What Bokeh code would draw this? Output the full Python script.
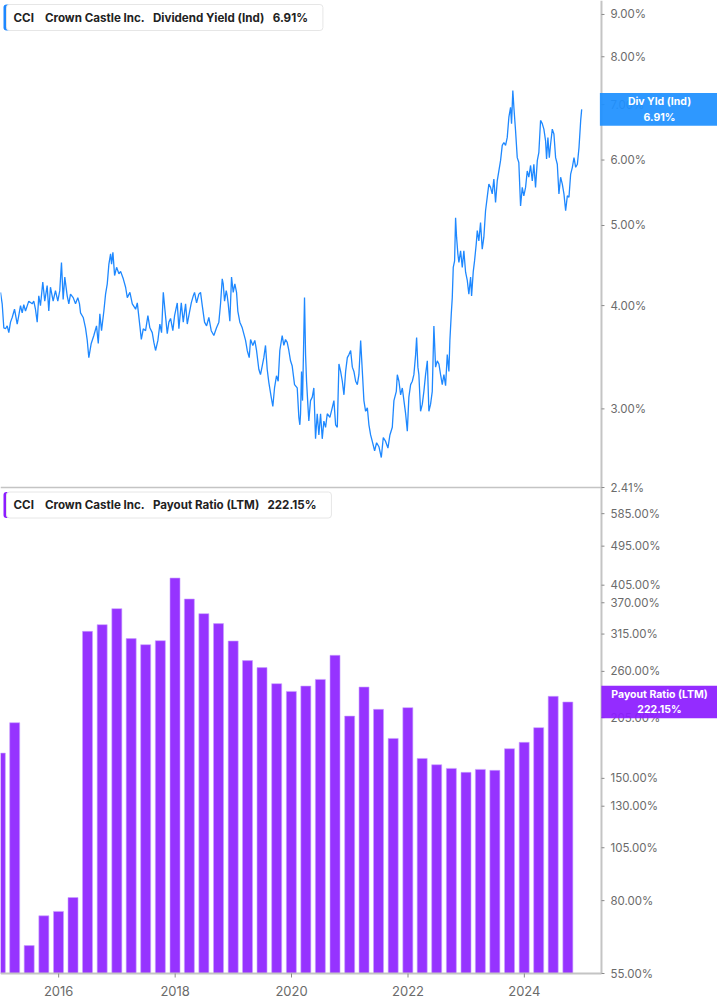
import math
from datetime import datetime
from bokeh.plotting import figure
from bokeh.models import Range1d, LogScale, Label, ColumnDataSource
from bokeh.core.properties import value
from bokeh.embed import file_html
from bokeh.resources import INLINE

# ---------------- data ----------------
# Dividend yield (Ind), % -- time given as decimal years
yield_t = [
    2015.000, 2015.029, 2015.057, 2015.086, 2015.115, 2015.143, 2015.172, 2015.201, 2015.241, 2015.287,
    2015.314, 2015.344, 2015.373, 2015.400, 2015.430, 2015.486, 2015.545, 2015.572, 2015.601, 2015.631,
    2015.658, 2015.687, 2015.727, 2015.761, 2015.802, 2015.830, 2015.859, 2015.905, 2015.945, 2015.985,
    2016.019, 2016.048, 2016.077, 2016.105, 2016.146, 2016.174, 2016.203, 2016.249, 2016.289, 2016.328,
    2016.357, 2016.375, 2016.421, 2016.460, 2016.490, 2016.517, 2016.558, 2016.603, 2016.649, 2016.679,
    2016.706, 2016.735, 2016.775, 2016.804, 2016.833, 2016.861, 2016.890, 2016.907, 2016.930, 2016.959,
    2016.993, 2017.033, 2017.062, 2017.108, 2017.148, 2017.177, 2017.222, 2017.263, 2017.320, 2017.349,
    2017.393, 2017.418, 2017.452, 2017.491, 2017.531, 2017.565, 2017.606, 2017.634, 2017.663, 2017.703,
    2017.737, 2017.766, 2017.796, 2017.823, 2017.864, 2017.892, 2017.921, 2017.960, 2017.990, 2018.036,
    2018.064, 2018.105, 2018.139, 2018.179, 2018.208, 2018.235, 2018.277, 2018.311, 2018.333, 2018.368,
    2018.407, 2018.436, 2018.466, 2018.505, 2018.540, 2018.579, 2018.620, 2018.665, 2018.711, 2018.751,
    2018.780, 2018.809, 2018.826, 2018.849, 2018.878, 2018.895, 2018.912, 2018.940, 2018.969, 2018.998,
    2019.026, 2019.055, 2019.077, 2019.112, 2019.153, 2019.210, 2019.239, 2019.273, 2019.296, 2019.335,
    2019.369, 2019.399, 2019.438, 2019.467, 2019.496, 2019.524, 2019.553, 2019.582, 2019.610, 2019.651,
    2019.679, 2019.708, 2019.742, 2019.771, 2019.799, 2019.840, 2019.868, 2019.897, 2019.926, 2019.954,
    2019.983, 2020.012, 2020.052, 2020.098, 2020.126, 2020.143, 2020.155, 2020.172, 2020.189, 2020.206,
    2020.223, 2020.241, 2020.258, 2020.280, 2020.297, 2020.326, 2020.356, 2020.383, 2020.412, 2020.441,
    2020.469, 2020.498, 2020.527, 2020.555, 2020.584, 2020.613, 2020.658, 2020.699, 2020.727, 2020.756,
    2020.785, 2020.813, 2020.842, 2020.871, 2020.899, 2020.928, 2020.957, 2020.985, 2021.014, 2021.043,
    2021.070, 2021.100, 2021.129, 2021.156, 2021.186, 2021.215, 2021.242, 2021.271, 2021.301, 2021.328,
    2021.357, 2021.386, 2021.426, 2021.460, 2021.500, 2021.541, 2021.575, 2021.615, 2021.655, 2021.689,
    2021.730, 2021.758, 2021.799, 2021.816, 2021.844, 2021.873, 2021.902, 2021.930, 2021.959, 2021.988,
    2022.015, 2022.045, 2022.074, 2022.101, 2022.131, 2022.148, 2022.170, 2022.187, 2022.216, 2022.246,
    2022.273, 2022.302, 2022.332, 2022.359, 2022.388, 2022.417, 2022.445, 2022.474, 2022.503, 2022.531,
    2022.560, 2022.589, 2022.617, 2022.646, 2022.675, 2022.703, 2022.720, 2022.744, 2022.761, 2022.778,
    2022.801, 2022.818, 2022.835, 2022.857, 2022.875, 2022.904, 2022.933, 2022.960, 2022.990, 2023.019,
    2023.046, 2023.076, 2023.093, 2023.122, 2023.144, 2023.173, 2023.191, 2023.218, 2023.247, 2023.276,
    2023.304, 2023.333, 2023.362, 2023.390, 2023.419, 2023.448, 2023.476, 2023.505, 2023.534, 2023.562,
    2023.591, 2023.620, 2023.648, 2023.677, 2023.706, 2023.734, 2023.763, 2023.780, 2023.802, 2023.820,
    2023.849, 2023.878, 2023.905, 2023.935, 2023.964, 2023.991, 2024.021, 2024.050, 2024.077, 2024.107,
    2024.136, 2024.163, 2024.192, 2024.222, 2024.249, 2024.278, 2024.307, 2024.335, 2024.364, 2024.381,
    2024.404, 2024.428, 2024.450, 2024.479, 2024.507, 2024.536, 2024.565, 2024.593, 2024.622, 2024.651,
    2024.679, 2024.708, 2024.737, 2024.765, 2024.794, 2024.823, 2024.851, 2024.880, 2024.909, 2024.937,
    2024.966, 2024.983,
]
yield_pct = [
    4.15, 4.02, 3.76, 3.75, 3.78, 3.71, 3.82, 3.87, 3.96, 3.80,
    3.89, 4.00, 3.92, 4.01, 3.94, 4.05, 4.02, 4.05, 3.96, 3.82,
    4.11, 4.00, 4.27, 4.05, 4.23, 3.94, 4.21, 4.05, 4.17, 4.05,
    4.17, 4.51, 4.07, 4.33, 4.11, 4.02, 4.13, 4.09, 4.02, 4.09,
    4.02, 3.92, 3.87, 3.76, 3.63, 3.46, 3.60, 3.68, 3.78, 3.60,
    3.91, 3.73, 3.94, 4.13, 4.25, 4.49, 4.62, 4.49, 4.64, 4.35,
    4.45, 4.37, 4.40, 4.31, 4.21, 4.09, 4.15, 4.02, 3.96, 4.03,
    3.78, 3.64, 3.75, 3.73, 3.89, 3.76, 3.71, 3.61, 3.53, 3.63,
    3.80, 3.71, 4.15, 3.96, 3.70, 3.82, 3.86, 3.73, 3.89, 4.03,
    3.75, 4.03, 3.82, 4.02, 3.80, 3.89, 4.03, 4.11, 4.15, 4.03,
    4.13, 4.15, 4.00, 3.82, 3.78, 3.87, 3.73, 3.68, 3.76, 3.82,
    4.02, 4.31, 4.25, 4.05, 4.17, 4.11, 4.02, 3.83, 4.33, 4.15,
    4.25, 4.15, 3.94, 3.82, 3.76, 3.63, 3.53, 3.46, 3.64, 3.58,
    3.63, 3.53, 3.35, 3.30, 3.38, 3.46, 3.58, 3.35, 3.23, 3.10,
    3.02, 3.18, 3.29, 3.24, 3.53, 3.68, 3.58, 3.64, 3.61, 3.53,
    3.43, 3.38, 3.21, 3.18, 2.93, 2.87, 2.96, 3.33, 3.07, 3.53,
    4.09, 3.49, 3.24, 3.04, 2.90, 3.07, 3.10, 3.18, 2.76, 2.96,
    2.79, 2.96, 2.76, 2.90, 2.85, 2.96, 2.93, 3.01, 3.07, 2.87,
    2.85, 3.40, 3.33, 3.24, 3.12, 3.33, 3.46, 3.49, 3.53, 3.37,
    3.33, 3.24, 3.21, 3.30, 3.63, 3.33, 3.07, 2.98, 3.01, 2.87,
    2.79, 2.74, 2.67, 2.73, 2.70, 2.62, 2.77, 2.74, 2.69, 2.79,
    2.85, 3.07, 3.15, 3.30, 3.24, 3.12, 3.18, 3.07, 2.96, 2.82,
    3.10, 3.21, 3.24, 3.30, 3.49, 3.66, 3.37, 3.30, 2.98, 3.04,
    3.15, 3.30, 3.43, 2.98, 3.04, 3.15, 3.78, 3.37, 3.43, 3.40,
    3.30, 3.21, 3.30, 3.20, 3.49, 3.33, 3.63, 3.91, 4.09, 4.45,
    4.53, 5.11, 4.84, 4.62, 4.51, 4.66, 4.45, 4.66, 4.39, 4.29,
    4.13, 4.33, 4.11, 4.40, 4.53, 4.75, 4.93, 4.79, 5.04, 4.68,
    4.84, 5.21, 5.41, 5.61, 5.56, 5.46, 5.69, 5.33, 5.66, 5.82,
    5.99, 6.25, 6.30, 6.25, 6.39, 6.76, 6.95, 6.64, 7.28, 6.95,
    6.51, 6.04, 5.96, 5.28, 5.56, 5.43, 5.56, 5.82, 5.72, 5.91,
    5.66, 5.93, 5.56, 5.99, 6.13, 6.70, 6.64, 6.54, 6.33, 6.02,
    6.39, 6.04, 6.27, 6.54, 6.45, 6.04, 5.93, 5.46, 5.72, 5.61,
    5.46, 5.21, 5.43, 5.41, 5.77, 5.88, 6.04, 5.88, 5.93, 6.21,
    6.70, 6.91,
]

# Payout ratio (LTM), %, by quarter end
payout_q = [
    "2014-12-31", "2015-03-31", "2015-06-30", "2015-09-30", "2015-12-31",
    "2016-03-31", "2016-06-30", "2016-09-30", "2016-12-31",
    "2017-03-31", "2017-06-30", "2017-09-30", "2017-12-31",
    "2018-03-31", "2018-06-30", "2018-09-30", "2018-12-31",
    "2019-03-31", "2019-06-30", "2019-09-30", "2019-12-31",
    "2020-03-31", "2020-06-30", "2020-09-30", "2020-12-31",
    "2021-03-31", "2021-06-30", "2021-09-30", "2021-12-31",
    "2022-03-31", "2022-06-30", "2022-09-30", "2022-12-31",
    "2023-03-31", "2023-06-30", "2023-09-30", "2023-12-31",
    "2024-03-31", "2024-06-30", "2024-09-30",
]
payout_pct = [
    170.8, 199.7, 63.5, 74.0, 75.7,
    81.3, 319.4, 330.6, 359.0,
    307.7, 298.3, 304.5, 420.2,
    377.2, 349.9, 332.4, 303.9,
    274.8, 265.1, 244.1, 234.6,
    241.1, 249.5, 282.4, 206.6,
    239.9, 213.9, 184.2, 215.8,
    166.2, 160.9, 157.9, 154.7,
    157.1, 156.3, 174.7, 180.5,
    194.7, 228.7, 222.15,
]

yield_ticks = [2.41, 3, 4, 5, 6, 7, 8, 9]
payout_ticks = [55, 80, 105, 130, 150, 205, 260, 315, 370, 405, 495, 585]
year_ticks = [2016, 2018, 2020, 2022, 2024]

ticker_sym = "CCI"
company = "Crown Castle Inc."

# ---------------- helpers ----------------
def dec_to_dt(t):
    y = int(t)
    a, b = datetime(y, 1, 1), datetime(y + 1, 1, 1)
    return a + (b - a) * (t - y)

yield_dates = [dec_to_dt(t) for t in yield_t]
bar_dates = [datetime.strptime(d, "%Y-%m-%d") for d in payout_q]
year_dates = [datetime(y, 1, 1) for y in year_ticks]

FONT = "Inter"
GRAY = "#6b6b6b"
AXIS = "#c4c4c4"
TICK = "#8a8a8a"
BLUE = "#1e88ff"
BLUE_BOX = "#1e90ff"
PURPLE = "#9633ff"
PURPLE_DARK = "#8c1cff"

# time window and the position of the value axis
x_start = datetime(2015, 1, 1)
axis_date = datetime(2025, 4, 29)
x_end = datetime(2027, 4, 27)

# one frame holding both panels: each panel gets its own log range
yield_range = Range1d(0.5694, 9.357)
payout_range = Range1d(46.66, 8184)

p = figure(width=717, height=1005, x_axis_type="datetime", y_axis_type="log",
           x_axis_location=None, y_axis_location=None,
           x_range=Range1d(x_start, x_end), y_range=yield_range,
           toolbar_location=None, output_backend="svg", min_border=0)
p.extra_y_ranges = {"payout": payout_range}
p.extra_y_scales = {"payout": LogScale()}
p.outline_line_color = None
p.grid.visible = False
p.background_fill_color = "white"

# ---- marks ----
p.line(yield_dates, yield_pct, line_color=BLUE, line_width=1.3)

src = ColumnDataSource(dict(x=bar_dates, top=payout_pct))
bar_w = 62.8 * 24 * 3600 * 1000
p.vbar(x="x", top="top", bottom=payout_ticks[0], width=bar_w, source=src,
       y_range_name="payout", fill_color=PURPLE, line_color="#c9a3ff", line_width=0.6)

# ---- axes (drawn as guides) ----
# value axis line (shared by both panels)
p.segment(x0=[axis_date], x1=[axis_date], y0=[payout_ticks[0]], y1=[payout_range.end],
          y_range_name="payout", line_color=AXIS, line_width=2)
# panel base lines
p.segment(x0=[x_start], x1=[axis_date], y0=[yield_ticks[0]], y1=[yield_ticks[0]],
          line_color=AXIS, line_width=1.5)
p.segment(x0=[x_start], x1=[axis_date], y0=[payout_ticks[0]], y1=[payout_ticks[0]],
          y_range_name="payout", line_color=AXIS, line_width=2)

lab_style = dict(text_font=value(FONT), text_font_size="11.5px", text_color=GRAY,
                 text_baseline="middle", text_align="left", x_offset=9)
p.ray(x=[axis_date] * len(yield_ticks), y=yield_ticks, length=3, length_units="screen",
      angle=0, line_color=TICK, line_width=1)
p.text(x=[axis_date] * len(yield_ticks), y=yield_ticks,
       text=[f"{t:.2f}%" for t in yield_ticks], **lab_style)
p.ray(x=[axis_date] * len(payout_ticks), y=payout_ticks, length=3, length_units="screen",
      angle=0, line_color=TICK, line_width=1, y_range_name="payout")
p.text(x=[axis_date] * len(payout_ticks), y=payout_ticks,
       text=[f"{t:.2f}%" for t in payout_ticks], y_range_name="payout", **lab_style)

# time axis
p.ray(x=year_dates, y=[payout_ticks[0]] * len(year_dates), length=4, length_units="screen",
      angle=-math.pi / 2, line_color=TICK, line_width=1, y_range_name="payout")
p.text(x=year_dates, y=[payout_ticks[0]] * len(year_dates), text=[str(y) for y in year_ticks],
       y_range_name="payout", y_offset=17, text_font=value(FONT), text_font_size="13px",
       text_color=GRAY, text_align="center", text_baseline="middle")

# ---- legends (top-left of each panel) ----
SP4 = "\u00a0\u00a0\u00a0\u00a0"
SP3 = "\u00a0\u00a0\u00a0"


def legend(text, color, y_from_bottom):
    common = dict(x_units="screen", y_units="screen", y=y_from_bottom, text=text,
                  text_font=FONT, text_font_size="11.6px", text_font_style="bold",
                  text_baseline="middle",
                  padding=dict(left=7, right=15, top=6, bottom=6), border_radius=3)
    p.add_layout(Label(x=3, text_color=color, background_fill_color=color, **common))
    p.add_layout(Label(x=6, text_color="#222222", background_fill_color="white",
                       border_line_color="#e6e6e6", **common))


legend(f"{ticker_sym}{SP4}{company}{SP3}Dividend Yield (Ind){SP3}{yield_pct[-1]:.2f}%",
       BLUE, 988)
legend(f"{ticker_sym}{SP4}{company}{SP3}Payout Ratio (LTM){SP3}{payout_pct[-1]:.2f}%",
       PURPLE_DARK, 500.5)

# ---- last-value boxes on the value axis ----
box = dict(x=659, x_units="screen", y_units="data", text_font=FONT, text_font_size="10.5px",
           text_font_style="bold", text_color="white", text_align="center",
           text_baseline="middle", background_fill_alpha=0.93)
p.add_layout(Label(y=yield_pct[-1], text=f"Div Yld (Ind)\n{yield_pct[-1]:.2f}%",
                   background_fill_color=BLUE_BOX,
                   padding=dict(left=28, right=28, top=2, bottom=2), **box))
p.add_layout(Label(y=payout_pct[-1], y_range_name="payout",
                   text=f"Payout Ratio (LTM)\n{payout_pct[-1]:.2f}%",
                   background_fill_color=PURPLE_DARK,
                   padding=dict(left=10, right=10, top=2, bottom=2), **box))

open("out.html", "w").write(file_html(p, INLINE))
